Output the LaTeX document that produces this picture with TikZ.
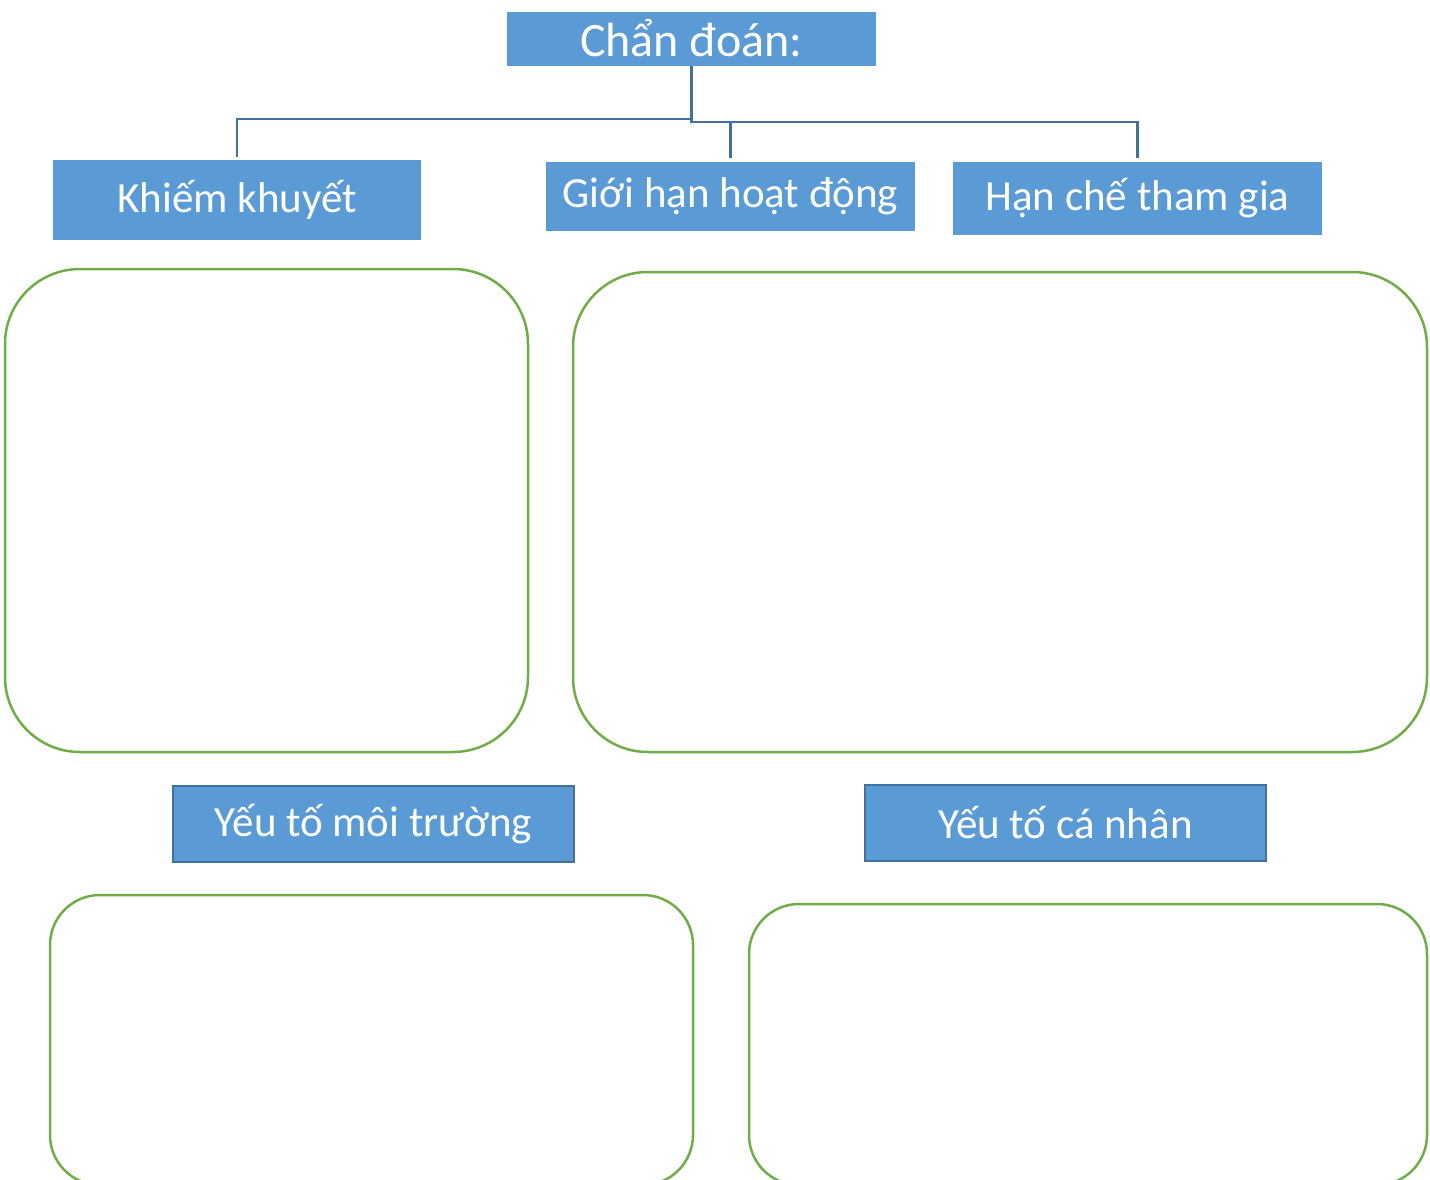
\documentclass[tikz,border=0pt]{standalone}
\usepackage{fontspec}
\setmainfont{Carlito}
\definecolor{boxblue}{HTML}{5B9BD5}
\definecolor{lineblue}{HTML}{41719C}
\definecolor{frameg}{HTML}{70AD47}
\begin{document}
\begin{tikzpicture}[x=1pt,y=-1pt,
  bluebox/.style={fill=boxblue,draw=none,inner sep=0pt,text=white,
    font=\fontsize{43}{48}\selectfont},
  bordered/.style={bluebox,draw=lineblue,line width=2.2pt},
  conn/.style={draw=lineblue,line width=2.5pt},
  frame/.style={draw=frameg,line width=2.5pt,rounded corners=75pt,inner sep=0pt}]
\useasboundingbox (0,0) rectangle (1430,1180);
\node[bluebox,font=\fontsize{48}{52}\selectfont,minimum width=369pt,minimum height=54pt] (top) at (691.5,39) {\raisebox{2pt}{Chẩn đoán:}};
\node[bluebox,minimum width=368pt,minimum height=80pt] (khiem) at (237,200) {Khiếm khuyết};
\node[bluebox,minimum width=369pt,minimum height=69pt] (gioi) at (730.5,196.5) {Giới hạn hoạt động};
\node[bluebox,minimum width=369pt,minimum height=73pt] (han) at (1137.5,198.5) {Hạn chế tham gia};
\node[bordered,minimum width=401pt,minimum height=76pt] (moi) at (373.5,824) {Yếu tố môi trường};
\node[bordered,minimum width=401pt,minimum height=76pt] (canhan) at (1065.5,823) {Yếu tố cá nhân};
\draw[conn] (top.south) -- (top.south |- 0,119) -| ([yshift=3pt]khiem.north);
\draw[conn] (top.south |- 0,119) -- (top.south |- 0,122) -| ([yshift=4pt]han.north);
\draw[conn] ([yshift=4pt]gioi.north) -- (gioi.north |- 0,122);
\node[frame,minimum width=523pt,minimum height=483pt] (f1) at (266.5,510.5) {};
\node[frame,minimum width=854pt,minimum height=480pt] (f2) at (1000,512) {};
\begin{scope}
\clip (0,0) rectangle (1430,1180);
\node[frame,rounded corners=50pt,minimum width=643pt,minimum height=290pt] (f3) at (371.5,1040) {};
\node[frame,rounded corners=50pt,minimum width=678pt,minimum height=281pt] (f4) at (1088,1044.5) {};
\end{scope}
\end{tikzpicture}
\end{document}
